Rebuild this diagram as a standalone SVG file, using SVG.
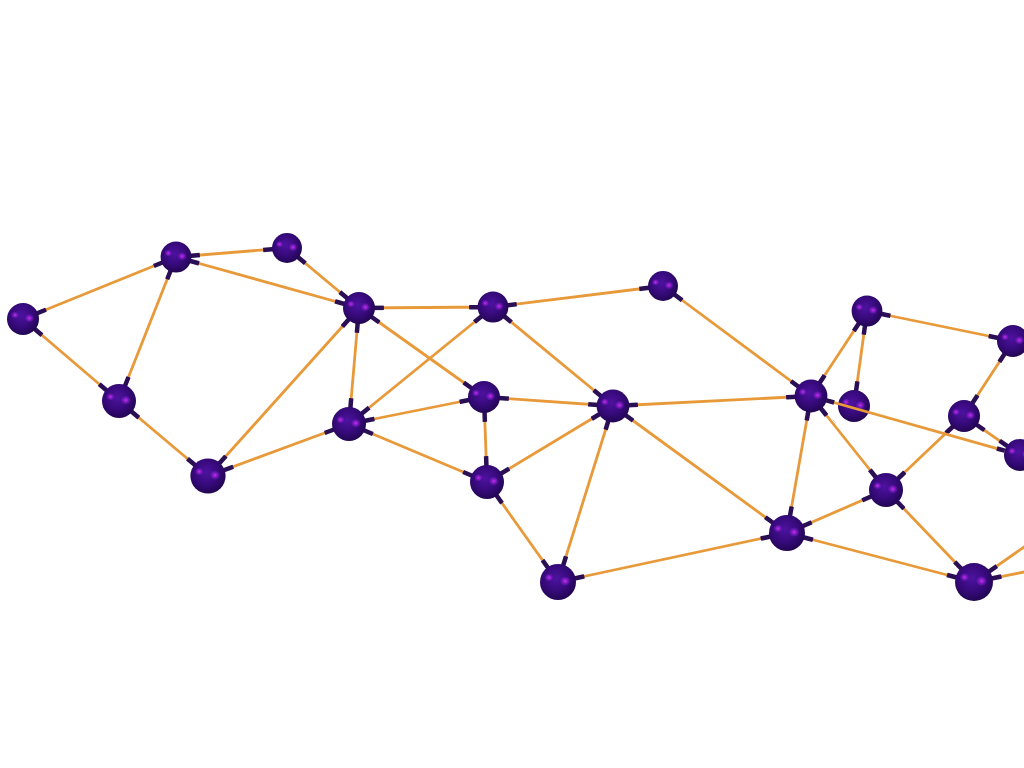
<svg xmlns="http://www.w3.org/2000/svg" xmlns:xlink="http://www.w3.org/1999/xlink" width="1024" height="768" viewBox="0 0 1024 768">
<style>
.e{stroke:#E89A3A;stroke-width:2.8;stroke-linecap:round;fill:none}
.c{stroke:#2B0F55;stroke-width:4.5;fill:none}
</style>
<defs>
<radialGradient id="g" cx="0.45" cy="0.4" r="0.65">
<stop offset="0" stop-color="#4E12A0"/>
<stop offset="0.55" stop-color="#360A7A"/>
<stop offset="1" stop-color="#1E054A"/>
</radialGradient>
<radialGradient id="h" cx="0.5" cy="0.5" r="0.5">
<stop offset="0" stop-color="#C830F0" stop-opacity="1"/>
<stop offset="0.5" stop-color="#A020E0" stop-opacity="0.6"/>
<stop offset="1" stop-color="#8A2AD8" stop-opacity="0"/>
</radialGradient>
<g id="ball">
<circle r="20" fill="url(#g)"/>
<ellipse cx="-10" cy="-5" rx="5" ry="4.5" fill="url(#h)"/>
<ellipse cx="8" cy="-1" rx="6" ry="5.5" fill="url(#h)"/>
</g>
<clipPath id="caps">
<circle cx="23" cy="319" r="25"/>
<circle cx="176" cy="257" r="24"/>
<circle cx="287" cy="248" r="24"/>
<circle cx="119" cy="401" r="26"/>
<circle cx="208" cy="476" r="27"/>
<circle cx="359" cy="308" r="25"/>
<circle cx="349" cy="424" r="26"/>
<circle cx="493" cy="307" r="24"/>
<circle cx="484" cy="397" r="25"/>
<circle cx="487" cy="482" r="26"/>
<circle cx="558" cy="582" r="27"/>
<circle cx="613" cy="406" r="25"/>
<circle cx="663" cy="286" r="24"/>
<circle cx="811" cy="396" r="25"/>
<circle cx="867" cy="311" r="24"/>
<circle cx="854" cy="406" r="25"/>
<circle cx="1013" cy="341" r="25"/>
<circle cx="964" cy="416" r="25"/>
<circle cx="1020" cy="455" r="25"/>
<circle cx="886" cy="490" r="26"/>
<circle cx="787" cy="533" r="27"/>
<circle cx="974" cy="582" r="28"/>
</clipPath>
<g id="edges">
<path d="M23 319L176 257M23 319L119 401M176 257L287 248M176 257L119 401M176 257L359 308M287 248L359 308M119 401L208 476M208 476L359 308M208 476L349 424M359 308L349 424M359 308L493 307M359 308L484 397M349 424L493 307M349 424L484 397M349 424L487 482M493 307L663 286M493 307L613 406M484 397L487 482M484 397L613 406M487 482L613 406M487 482L558 582M558 582L613 406M558 582L787 533M613 406L811 396M613 406L787 533M663 286L811 396M811 396L867 311M811 396L787 533M811 396L886 490M867 311L854 406M867 311L1013 341M1013 341L964 416M964 416L886 490M964 416L1020 455M886 490L787 533M886 490L974 582M787 533L974 582M974 582L1034 540M974 582L1034 570"/>
</g>
</defs>
<rect width="1024" height="768" fill="#FFFFFF"/>
<g id="connectors">
<use xlink:href="#edges" class="e"/>
<use xlink:href="#edges" class="c" clip-path="url(#caps)"/>
</g>
<g id="n1"><use xlink:href="#ball" transform="translate(23 319) scale(0.8)"/></g>
<g id="n2"><use xlink:href="#ball" transform="translate(176 257) scale(0.77)"/></g>
<g id="n3"><use xlink:href="#ball" transform="translate(287 248) scale(0.75)"/></g>
<g id="n4"><use xlink:href="#ball" transform="translate(119 401) scale(0.85)"/></g>
<g id="n5"><use xlink:href="#ball" transform="translate(208 476) scale(0.88)"/></g>
<g id="n6"><use xlink:href="#ball" transform="translate(359 308) scale(0.8)"/></g>
<g id="n7"><use xlink:href="#ball" transform="translate(349 424) scale(0.85)"/></g>
<g id="n8"><use xlink:href="#ball" transform="translate(493 307) scale(0.77)"/></g>
<g id="n9"><use xlink:href="#ball" transform="translate(484 397) scale(0.8)"/></g>
<g id="n10"><use xlink:href="#ball" transform="translate(487 482) scale(0.85)"/></g>
<g id="n11"><use xlink:href="#ball" transform="translate(558 582) scale(0.9)"/></g>
<g id="n12"><use xlink:href="#ball" transform="translate(613 406) scale(0.82)"/></g>
<g id="n13"><use xlink:href="#ball" transform="translate(663 286) scale(0.75)"/></g>
<g id="n16"><use xlink:href="#ball" transform="translate(854 406) scale(0.8)"/></g>
<g id="connector-14-19">
<path class="e" d="M811 396L1020 455"/>
<path class="c" d="M826.4 400.4L834.1 402.5M1004.6 450.7L996.9 448.5"/>
</g>
<g id="n14"><use xlink:href="#ball" transform="translate(811 396) scale(0.82)"/></g>
<g id="n15"><use xlink:href="#ball" transform="translate(867 311) scale(0.77)"/></g>
<g id="n17"><use xlink:href="#ball" transform="translate(1013 341) scale(0.8)"/></g>
<g id="n18"><use xlink:href="#ball" transform="translate(964 416) scale(0.8)"/></g>
<g id="n19"><use xlink:href="#ball" transform="translate(1020 455) scale(0.8)"/></g>
<g id="n20"><use xlink:href="#ball" transform="translate(886 490) scale(0.85)"/></g>
<g id="n21"><use xlink:href="#ball" transform="translate(787 533) scale(0.9)"/></g>
<g id="n22"><use xlink:href="#ball" transform="translate(974 582) scale(0.95)"/></g>
</svg>
